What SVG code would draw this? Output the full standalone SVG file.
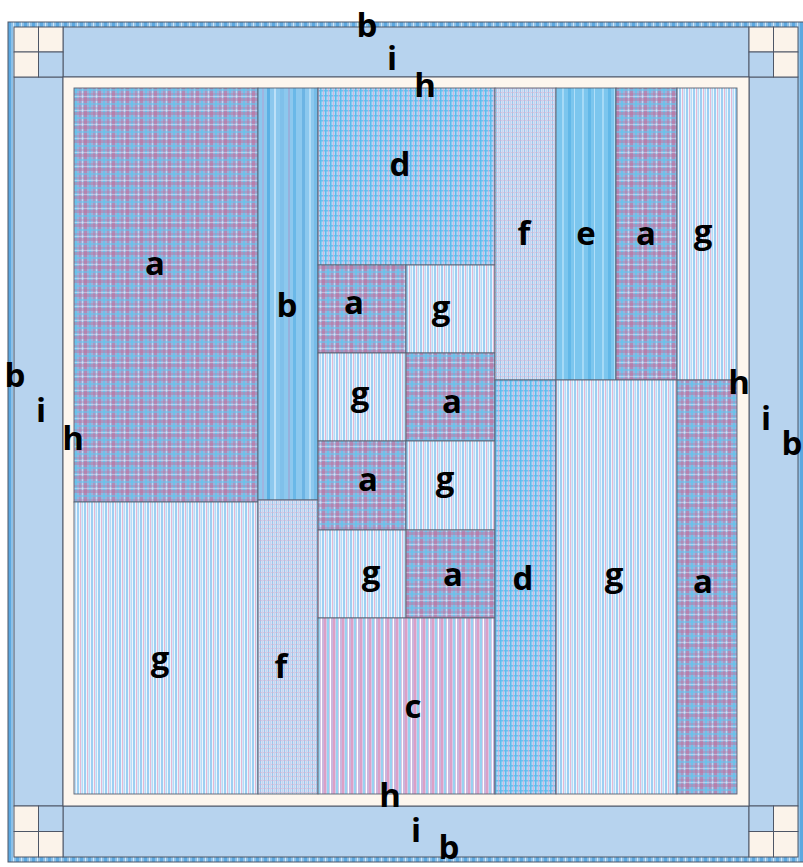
<svg xmlns="http://www.w3.org/2000/svg" width="803" height="867" viewBox="0 0 803 867">
<defs>
<pattern id="pa" patternUnits="userSpaceOnUse" width="14" height="14">
<rect width="14" height="14" fill="#9ab2dc"/>
<rect x="0" y="0" width="3" height="14" fill="#c0709c" opacity="0.6"/>
<rect x="5" y="0" width="2" height="14" fill="#64c4ec" opacity="0.8"/>
<rect x="9" y="0" width="2" height="14" fill="#c0709c" opacity="0.4"/>
<rect x="12" y="0" width="1" height="14" fill="#eef6ff" opacity="0.5"/>
<rect x="0" y="0" width="14" height="3" fill="#c0709c" opacity="0.45"/>
<rect x="0" y="5" width="14" height="2" fill="#64c4ec" opacity="0.6"/>
<rect x="0" y="9" width="14" height="2" fill="#c0709c" opacity="0.3"/>
<rect x="0" y="12" width="14" height="1" fill="#eef6ff" opacity="0.4"/>
</pattern>
<pattern id="pg" patternUnits="userSpaceOnUse" width="7" height="10">
<rect width="7" height="10" fill="#eef5fc"/>
<rect x="0" width="2" height="10" fill="#9ccff2"/>
<rect x="3" width="1" height="10" fill="#e4b8d4"/>
<rect x="4.5" width="1.5" height="10" fill="#b6dbf6"/>
</pattern>
<pattern id="pc" patternUnits="userSpaceOnUse" width="9" height="10">
<rect width="9" height="10" fill="#d6c8e6"/>
<rect x="0" width="2" height="10" fill="#dca0c6"/>
<rect x="3" width="2" height="10" fill="#98d2f0"/>
<rect x="6" width="1" height="10" fill="#ffffff"/>
<rect x="7.5" width="1" height="10" fill="#bea4d4"/>
</pattern>
<pattern id="pd" patternUnits="userSpaceOnUse" width="5" height="5">
<rect width="5" height="5" fill="#b4d6f4"/>
<rect x="0" width="1.5" height="5" fill="#5cbcec"/>
<rect y="0" width="5" height="1.5" fill="#5cbcec" opacity="0.8"/>
<rect x="3" width="0.7" height="5" fill="#d6aed8"/>
</pattern>
<pattern id="pf" patternUnits="userSpaceOnUse" width="4" height="4">
<rect width="4" height="4" fill="#d6e0f2"/>
<rect x="0" width="1" height="4" fill="#9cc6ec"/>
<rect y="0" width="4" height="1" fill="#d8b0d0" opacity="0.6"/>
<rect x="2" width="1" height="4" fill="#c4d4f0"/>
</pattern>
<pattern id="pb" patternUnits="userSpaceOnUse" width="60" height="40">
<rect width="60" height="40" fill="#8cc8ee"/>
<rect x="2" width="3" height="40" fill="#6cb4e4"/>
<rect x="9" width="2" height="40" fill="#b4dcf6"/>
<rect x="14" width="4" height="40" fill="#76bce8"/>
<rect x="22" width="2" height="40" fill="#a0b4e0"/>
<rect x="27" width="3" height="40" fill="#5cb0e4"/>
<rect x="34" width="2" height="40" fill="#bce0f8"/>
<rect x="40" width="4" height="40" fill="#80c0ea"/>
<rect x="48" width="2" height="40" fill="#98b0dc"/>
<rect x="53" width="3" height="40" fill="#6ab8e8"/>
</pattern>
<pattern id="pe" patternUnits="userSpaceOnUse" width="20" height="20">
<rect width="20" height="20" fill="#7cc6ee"/>
<rect x="2" width="2" height="20" fill="#a6daf6"/>
<rect x="8" width="3" height="20" fill="#62b8e8"/>
<rect x="14" width="1" height="20" fill="#b0def8"/>
</pattern>
<pattern id="pbind" patternUnits="userSpaceOnUse" width="8" height="8">
<rect width="8" height="8" fill="#8cc0e8"/>
<rect x="0" width="3" height="8" fill="#5ca8e0"/>
<rect x="5" width="1" height="8" fill="#d0e8f8"/>
</pattern>
<style>
.p{stroke:#5a6272;stroke-width:0.9}
.a{fill:url(#pa)}.b{fill:url(#pb)}.c{fill:url(#pc)}.d{fill:url(#pd)}
.e{fill:url(#pe)}.f{fill:url(#pf)}.g{fill:url(#pg)}
.i{fill:#b7d3ee;stroke:#4e5666;stroke-width:1}
.h{fill:#fdf6ee}
.cr{fill:#fbf3ea;stroke:#4e5666;stroke-width:1}
.cb{fill:#b7d3ee;stroke:#4e5666;stroke-width:1}
text{font-family:"Open Sans","DejaVu Sans",sans-serif;font-weight:700;font-size:33px;fill:#000;text-anchor:middle}
</style>
</defs>
<rect width="803" height="867" fill="#ffffff"/>
<g id="binding"><rect x="8" y="22" width="798" height="840" fill="url(#pbind)" stroke="#4e5666" stroke-width="1"/></g>
<g id="borders">
<rect class="i" x="63" y="27" width="686" height="50"/>
<rect class="i" x="63" y="806" width="686" height="51"/>
<rect class="i" x="14" y="77" width="49" height="729"/>
<rect class="i" x="749" y="77" width="49" height="729"/>
</g>
<g id="corners">
<rect class="cr" x="14" y="27" width="24.5" height="25"/><rect class="cr" x="38.5" y="27" width="24.5" height="25"/>
<rect class="cr" x="14" y="52" width="24.5" height="25"/><rect class="cb" x="38.5" y="52" width="24.5" height="25"/>
<rect class="cr" x="749" y="27" width="24.5" height="25"/><rect class="cr" x="773.5" y="27" width="24.5" height="25"/>
<rect class="cb" x="749" y="52" width="24.5" height="25"/><rect class="cr" x="773.5" y="52" width="24.5" height="25"/>
<rect class="cr" x="14" y="806" width="24.5" height="25.5"/><rect class="cb" x="38.5" y="806" width="24.5" height="25.5"/>
<rect class="cr" x="14" y="831.5" width="24.5" height="25.5"/><rect class="cr" x="38.5" y="831.5" width="24.5" height="25.5"/>
<rect class="cb" x="749" y="806" width="24.5" height="25.5"/><rect class="cr" x="773.5" y="806" width="24.5" height="25.5"/>
<rect class="cr" x="749" y="831.5" width="24.5" height="25.5"/><rect class="cr" x="773.5" y="831.5" width="24.5" height="25.5"/>
</g>
<g id="sashing"><rect class="h" x="63" y="77" width="686" height="729" stroke="#4e5666" stroke-width="1"/></g>
<g id="panel">
<rect class="p a" x="74" y="88" width="184" height="414"/>
<rect class="p g" x="74" y="502" width="184" height="292"/>
<rect class="p b" x="258" y="88" width="60" height="412"/>
<rect class="p f" x="258" y="500" width="60" height="294"/>
<rect class="p d" x="318" y="88" width="177" height="177"/>
<rect class="p a" x="318" y="265" width="88" height="88"/>
<rect class="p g" x="406" y="265" width="89" height="88"/>
<rect class="p g" x="318" y="353" width="88" height="88"/>
<rect class="p a" x="406" y="353" width="89" height="88"/>
<rect class="p a" x="318" y="441" width="88" height="89"/>
<rect class="p g" x="406" y="441" width="89" height="89"/>
<rect class="p g" x="318" y="530" width="88" height="88"/>
<rect class="p a" x="406" y="530" width="89" height="88"/>
<rect class="p c" x="318" y="618" width="177" height="176"/>
<rect class="p f" x="495" y="88" width="61" height="292"/>
<rect class="p d" x="495" y="380" width="61" height="414"/>
<rect class="p e" x="556" y="88" width="60" height="292"/>
<rect class="p a" x="616" y="88" width="61" height="292"/>
<rect class="p g" x="677" y="88" width="60" height="292"/>
<rect class="p g" x="556" y="380" width="121" height="414"/>
<rect class="p a" x="677" y="380" width="60" height="414"/>
</g>
<g id="labels">
<text x="367" y="37">b</text>
<text x="392" y="70">i</text>
<text x="425" y="97">h</text>
<text x="15" y="387">b</text>
<text x="41" y="422">i</text>
<text x="73" y="450">h</text>
<text x="739" y="394">h</text>
<text x="766" y="430">i</text>
<text x="792" y="455">b</text>
<text x="390" y="807">h</text>
<text x="416" y="842">i</text>
<text x="449" y="859">b</text>
<text x="155" y="275">a</text>
<text x="160" y="670">g</text>
<text x="287" y="317">b</text>
<text x="281" y="678">f</text>
<text x="400" y="176">d</text>
<text x="354" y="314">a</text>
<text x="441" y="319">g</text>
<text x="360" y="405">g</text>
<text x="452" y="413">a</text>
<text x="368" y="491">a</text>
<text x="445" y="490">g</text>
<text x="371" y="584">g</text>
<text x="453" y="586">a</text>
<text x="413" y="718">c</text>
<text x="524" y="245">f</text>
<text x="586" y="245">e</text>
<text x="646" y="245">a</text>
<text x="703" y="243">g</text>
<text x="523" y="590">d</text>
<text x="614" y="586">g</text>
<text x="703" y="593">a</text>
</g>
</svg>
